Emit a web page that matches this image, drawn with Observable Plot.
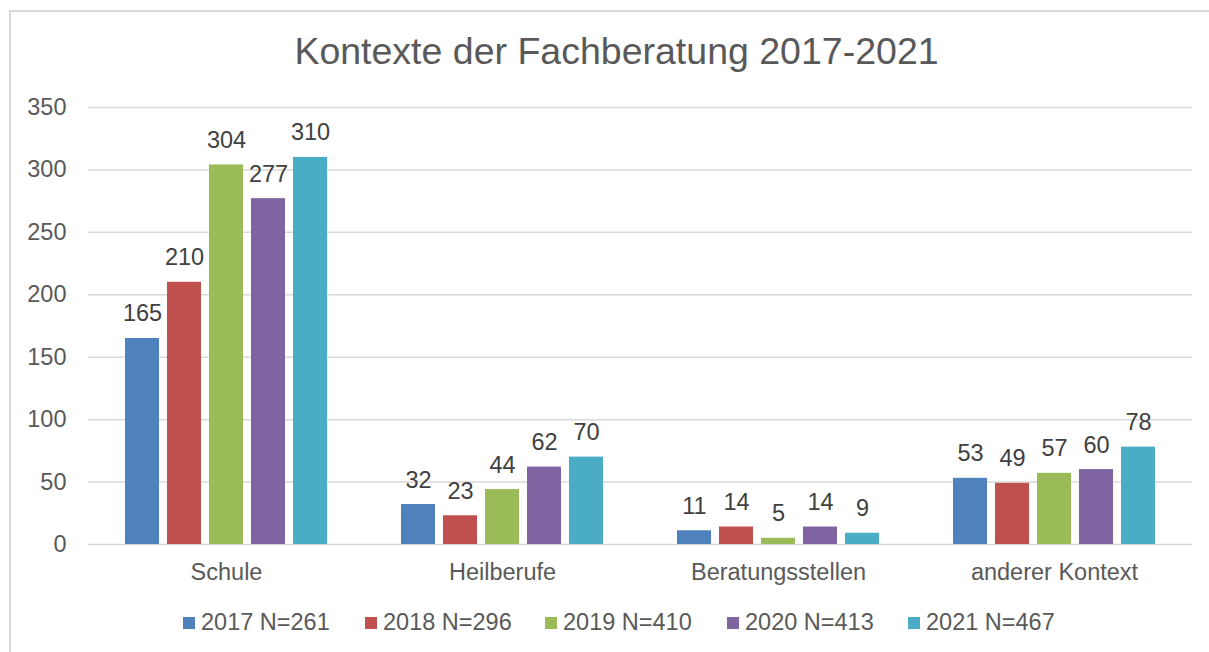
<!DOCTYPE html>
<html>
<head>
<meta charset="utf-8">
<script src="https://cdn.jsdelivr.net/npm/d3@7"></script>
<script src="https://cdn.jsdelivr.net/npm/@observablehq/plot@0.6"></script>
<style>
  body { margin: 0; background: #fff; font-family: "Liberation Sans", Arial, sans-serif; }
  #wrap { position: relative; width: 1209px; height: 652px; overflow: hidden; }
  #frame { position: absolute; left: 9px; top: 10px; width: 1300px; height: 700px; border: 2px solid #d9d9d9; box-sizing: border-box; }
  #title { position: absolute; left: 0; width: 1233px; top: 30px; text-align: center; font-size: 37.5px; color: #595959; white-space: nowrap; }
  #chart { position: absolute; left: 0; top: 80px; }
  #legend { position: absolute; left: 0; top: 609px; width: 1209px; height: 30px; font-size: 23.5px; color: #595959; }
  .item { position: absolute; top: 0; display: flex; align-items: center; white-space: nowrap; }
  .sw { width: 12px; height: 12px; margin-right: 6px; }
</style>
</head>
<body>
<div id="wrap">
  <div id="frame"></div>
  <div id="title">Kontexte der Fachberatung 2017-2021</div>
  <div id="chart"></div>
  <div id="legend"></div>
</div>
<script>
const categories = ["Schule", "Heilberufe", "Beratungsstellen", "anderer Kontext"];
const years = ["2017", "2018", "2019", "2020", "2021"];
const seriesLabels = ["2017 N=261", "2018 N=296", "2019 N=410", "2020 N=413", "2021 N=467"];
const colors = ["#4f81bd", "#c0504d", "#9bbb59", "#8064a2", "#4bacc6"];
const v2017 = [165, 32, 11, 53];
const v2018 = [210, 23, 14, 49];
const v2019 = [304, 44, 5, 57];
const v2020 = [277, 62, 14, 60];
const v2021 = [310, 70, 9, 78];
const yTicks = [0, 50, 100, 150, 200, 250, 300, 350];

const series = [v2017, v2018, v2019, v2020, v2021];
const data = [];
categories.forEach((c, ci) => {
  years.forEach((y, yi) => {
    data.push({category: c, year: y, value: series[yi][ci]});
  });
});

const chart = Plot.plot({
  width: 1209,
  height: 520,
  marginLeft: 88,
  marginRight: 17,
  marginTop: 27,
  marginBottom: 56,
  style: {fontFamily: "'Liberation Sans', Arial, sans-serif", fontSize: "23.5px", color: "#595959", background: "transparent"},
  fx: {domain: categories, padding: 0, label: null, axis: "bottom", tickSize: 0, tickPadding: 19},
  x: {domain: years, paddingInner: 0.2, paddingOuter: 0.85, axis: null},
  y: {domain: [0, 350], ticks: yTicks, tickSize: 0, tickPadding: 22, label: null, grid: false},
  color: {domain: years, range: colors},
  marks: [
    Plot.ruleY(yTicks, {stroke: "#d9d9d9", strokeWidth: 1.5}),
    Plot.barY(data, {fx: "category", x: "year", y: "value", fill: "year"}),
    Plot.text(data, {fx: "category", x: "year", y: "value", text: d => String(d.value), lineAnchor: "bottom", dy: -17, fontSize: 23.5, fill: "#404040"})
  ]
});
document.getElementById("chart").appendChild(chart);

const legendX = [183, 365, 545, 727, 908];
const legend = document.getElementById("legend");
seriesLabels.forEach((lab, i) => {
  const item = document.createElement("div");
  item.className = "item";
  item.style.left = legendX[i] + "px";
  const sw = document.createElement("div");
  sw.className = "sw";
  sw.style.background = colors[i];
  const tx = document.createElement("span");
  tx.textContent = lab;
  item.appendChild(sw);
  item.appendChild(tx);
  legend.appendChild(item);
});
</script>
</body>
</html>
